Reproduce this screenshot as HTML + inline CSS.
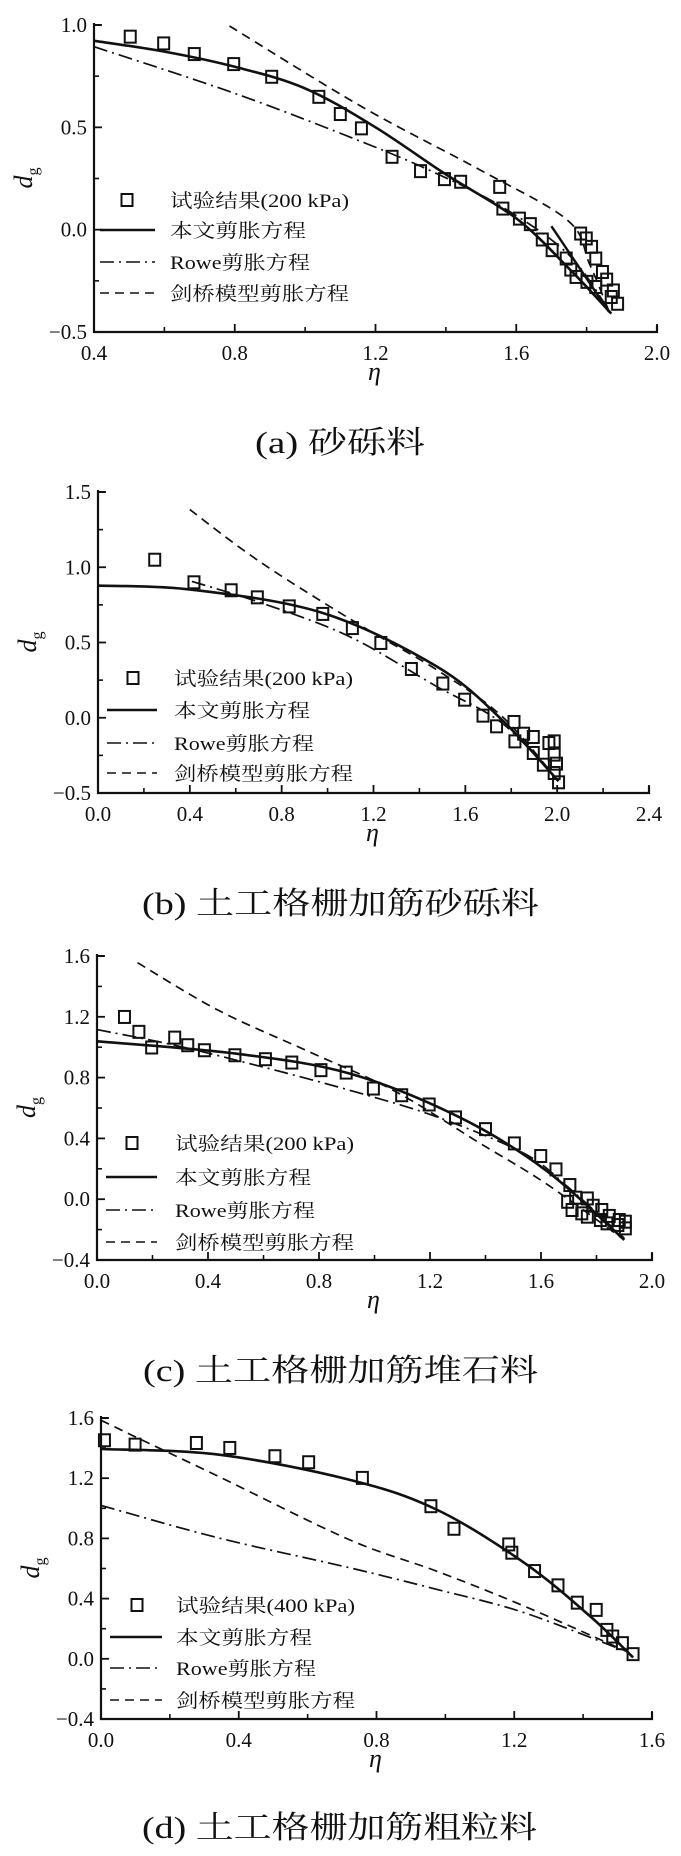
<!DOCTYPE html>
<html><head><meta charset="utf-8">
<style>
html,body{margin:0;padding:0;background:#fff;}
svg{display:block;}
.tick{font-family:"Liberation Serif",serif;font-size:21px;fill:#111;}
.leg{font-family:"Liberation Serif","Noto Serif CJK SC",serif;font-size:19px;fill:#111;}
.cap{font-family:"Liberation Serif","Noto Serif CJK SC",serif;font-size:31px;fill:#111;}
.ax{font-family:"Liberation Serif",serif;font-style:italic;fill:#111;}
</style></head>
<body>
<svg id="root" width="681" height="1856" viewBox="0 0 681 1856" xmlns="http://www.w3.org/2000/svg"></svg>
<script>
// ---------- Chart (a) data ----------
const aXTicks=[0.4,0.8,1.2,1.6,2.0];
const aYTicks=[-0.5,0.0,0.5,1.0];
const aXTickLabels=["0.4","0.8","1.2","1.6","2.0"];
const aYTickLabels=["\u22120.5","0.0","0.5","1.0"];
const aTestEta=[0.503,0.598,0.685,0.797,0.905,1.039,1.10,1.16,1.247,1.328,1.396,1.442,1.553,1.562,1.609,1.640,1.674,1.702,1.742,1.755,1.77,1.783,1.799,1.814,1.826,1.801,1.845,1.857,1.826,1.876,1.87,1.888];
const aTestDg=[0.943,0.91,0.858,0.809,0.747,0.649,0.565,0.495,0.356,0.286,0.247,0.234,0.209,0.103,0.054,0.027,-0.048,-0.1,-0.141,-0.195,-0.231,-0.019,-0.043,-0.084,-0.141,-0.255,-0.207,-0.244,-0.28,-0.297,-0.329,-0.362];
const aOursEta=[0.4,0.6,0.8,1.0,1.2,1.4,1.6,1.75,1.87];
const aOursDg=[0.923,0.87,0.796,0.69,0.50,0.27,0.055,-0.19,-0.41];
const aOurs2Eta=[1.70,1.864];
const aOurs2Dg=[0.017,-0.402];
const aRoweEta=[0.4,0.8,1.162,1.374,1.56,1.746,1.864];
const aRoweDg=[0.894,0.666,0.429,0.274,0.111,-0.117,-0.394];
const aCamEta=[0.785,1.162,1.498,1.746,1.808,1.864];
const aCamDg=[0.995,0.60,0.291,0.046,-0.166,-0.40];

// ---------- Chart (b) data ----------
const bXTicks=[0.0,0.4,0.8,1.2,1.6,2.0,2.4];
const bYTicks=[-0.5,0.0,0.5,1.0,1.5];
const bXTickLabels=["0.0","0.4","0.8","1.2","1.6","2.0","2.4"];
const bYTickLabels=["\u22120.5","0.0","0.5","1.0","1.5"];
const bTestEta=[0.247,0.418,0.580,0.694,0.833,0.979,1.108,1.232,1.365,1.502,1.597,1.677,1.736,1.812,1.816,1.854,1.896,1.896,1.94,1.964,1.987,1.987,1.997,1.987,2.006];
const bTestDg=[1.05,0.90,0.847,0.80,0.74,0.69,0.596,0.497,0.324,0.227,0.12,0.014,-0.057,-0.028,-0.157,-0.106,-0.128,-0.234,-0.312,-0.168,-0.157,-0.245,-0.305,-0.367,-0.429];
const bOursEta=[0,0.409,0.979,1.474,1.759,2.006];
const bOursDg=[0.878,0.851,0.696,0.342,-0.013,-0.422];
const bRoweEta=[0.409,0.713,1.093,1.474,1.759,2.0];
const bRoweDg=[0.906,0.762,0.541,0.209,-0.035,-0.41];
const bCamEta=[0.40,0.713,1.151,1.474,1.759,2.0];
const bCamDg=[1.383,1.028,0.607,0.32,0.01,-0.41];

// ---------- Chart (c) data ----------
const cXTicks=[0.0,0.4,0.8,1.2,1.6,2.0];
const cYTicks=[-0.4,0.0,0.4,0.8,1.2,1.6];
const cXTickLabels=["0.0","0.4","0.8","1.2","1.6","2.0"];
const cYTickLabels=["\u22120.4","0.0","0.4","0.8","1.2","1.6"];
const cTestEta=[0.099,0.151,0.197,0.28,0.327,0.387,0.497,0.607,0.702,0.807,0.898,0.996,1.098,1.197,1.292,1.40,1.504,1.599,1.654,1.704,1.696,1.725,1.712,1.767,1.747,1.788,1.767,1.819,1.814,1.846,1.838,1.882,1.877,1.904,1.904];
const cTestDg=[1.199,1.101,0.998,1.063,1.013,0.98,0.947,0.921,0.899,0.849,0.833,0.728,0.684,0.623,0.538,0.461,0.367,0.284,0.196,0.093,-0.017,0.01,-0.071,0.005,-0.093,-0.043,-0.115,-0.071,-0.137,-0.11,-0.159,-0.137,-0.17,-0.148,-0.192];
const cOursEta=[0,0.5,0.91,1.303,1.617,1.9];
const cOursDg=[1.039,0.958,0.827,0.542,0.191,-0.268];
const cRoweEta=[0,0.28,0.595,0.91,1.224,1.539,1.696,1.9];
const cRoweDg=[1.116,1.013,0.871,0.717,0.542,0.301,0.082,-0.257];
const cCamEta=[0.146,0.437,0.752,1.067,1.381,1.617,1.9];
const cCamDg=[1.556,1.243,0.98,0.717,0.367,0.104,-0.268];

// ---------- Chart (d) data ----------
const dXTicks=[0.0,0.4,0.8,1.2,1.6];
const dYTicks=[-0.4,0.0,0.4,0.8,1.2,1.6];
const dXTickLabels=["0.0","0.4","0.8","1.2","1.6"];
const dYTickLabels=["\u22120.4","0.0","0.4","0.8","1.2","1.6"];
const dTestEta=[0.01,0.099,0.277,0.374,0.505,0.603,0.759,0.958,1.025,1.184,1.193,1.259,1.327,1.383,1.438,1.469,1.486,1.514,1.545];
const dTestDg=[1.452,1.423,1.434,1.401,1.346,1.306,1.202,1.014,0.864,0.76,0.705,0.583,0.488,0.373,0.325,0.192,0.148,0.104,0.031];
const dOursEta=[0,0.34,0.72,0.974,1.228,1.419,1.545];
const dOursDg=[1.394,1.357,1.191,0.992,0.639,0.285,0.009];
const dRoweEta=[0,0.34,0.72,0.974,1.228,1.52];
const dRoweDg=[1.019,0.804,0.606,0.462,0.307,0.053];
const dCamEta=[0,0.086,0.34,0.72,0.974,1.228,1.533];
const dCamDg=[1.585,1.49,1.213,0.793,0.583,0.351,0.042];

const NS="http://www.w3.org/2000/svg";
const root=document.getElementById('root');
function mk(tag,attrs,parent){const e=document.createElementNS(NS,tag);for(const k in attrs)e.setAttribute(k,attrs[k]);(parent||root).appendChild(e);return e;}
function smooth(pts){
  if(pts.length<3){return "M"+pts.map(p=>p[0].toFixed(1)+","+p[1].toFixed(1)).join(" L");}
  let d="M"+pts[0][0].toFixed(1)+","+pts[0][1].toFixed(1);
  for(let i=0;i<pts.length-1;i++){
    const p0=pts[Math.max(0,i-1)],p1=pts[i],p2=pts[i+1],p3=pts[Math.min(pts.length-1,i+2)];
    const c1=[p1[0]+(p2[0]-p0[0])/6,p1[1]+(p2[1]-p0[1])/6];
    const c2=[p2[0]-(p3[0]-p1[0])/6,p2[1]-(p3[1]-p1[1])/6];
    d+=" C"+c1[0].toFixed(1)+","+c1[1].toFixed(1)+" "+c2[0].toFixed(1)+","+c2[1].toFixed(1)+" "+p2[0].toFixed(1)+","+p2[1].toFixed(1);
  }
  return d;
}
const DASHDOT="14 5 2 5", DASHED="9 6";

function chart(cfg){
  const g=mk('g',{});
  
  
  const xs=v=>cfg.L+(v-cfg.xMin)/(cfg.xMax-cfg.xMin)*(cfg.R-cfg.L);
  const ys=v=>cfg.B-(v-cfg.yMin)/(cfg.yMax-cfg.yMin)*(cfg.B-cfg.T);
  const axes=mk('path',{d:`M${cfg.L},${cfg.T-2} L${cfg.L},${cfg.B} L${cfg.R},${cfg.B} L${cfg.R},${cfg.B-7}`,fill:'none',stroke:'#111','stroke-width':2.2},g);
  
  
  mk('line',{x1:cfg.L,y1:cfg.T,x2:cfg.L+7,y2:cfg.T,stroke:'#111','stroke-width':2},g);
  cfg.xTicks.forEach((v,i)=>{
    const x=xs(v);
    mk('line',{x1:x,y1:cfg.B,x2:x,y2:cfg.B-8,stroke:'#111','stroke-width':1.8},g);
    if(i<cfg.xTicks.length-1){const xm=xs(v+(cfg.xTicks[1]-cfg.xTicks[0])/2);mk('line',{x1:xm,y1:cfg.B,x2:xm,y2:cfg.B-5,stroke:'#111','stroke-width':1.6},g);}
    const t=mk('text',{x:x,y:cfg.B+28,'text-anchor':'middle',class:'tick'},g);
    t.textContent=cfg.xTickLabels[i];
    
    
  });
  cfg.yTicks.forEach((v,i)=>{
    const y=ys(v);
    mk('line',{x1:cfg.L,y1:y,x2:cfg.L+8,y2:y,stroke:'#111','stroke-width':1.8},g);
    if(i<cfg.yTicks.length-1){const ym=ys(v+(cfg.yTicks[1]-cfg.yTicks[0])/2);mk('line',{x1:cfg.L,y1:ym,x2:cfg.L+5,y2:ym,stroke:'#111','stroke-width':1.6},g);}
    const t=mk('text',{x:cfg.L-7,y:y+7,'text-anchor':'end',class:'tick'},g);
    t.textContent=cfg.yTickLabels[i];
    
    
  });
  const yt=mk('text',{x:0,y:0,class:'ax','font-size':26,transform:`translate(${cfg.L-62},${(cfg.T+cfg.B)/2+10}) rotate(-90)`},g);
  yt.innerHTML='d<tspan font-size="16" font-style="normal" dy="6">g</tspan>';
  
  
  const xt=mk('text',{x:(cfg.L+cfg.R)/2-1,y:cfg.B+48,class:'ax','font-size':26,'text-anchor':'middle'},g);
  xt.textContent='η';
  
  
  cfg.lines.forEach(s=>{
    const pts=s.eta.map((e,i)=>[xs(e),ys(s.dg[i])]);
    const p=mk('path',{d:smooth(pts),fill:'none',stroke:'#111','stroke-width':s.w,'stroke-dasharray':s.dash||'none'},g);
    
    
  });
  cfg.testEta.forEach((e,i)=>{
    const r=mk('rect',{x:xs(e)-5.5,y:ys(cfg.testDg[i])-6,width:11,height:12,fill:'none',stroke:'#111','stroke-width':2},g);
    
    
  });
  const lg=cfg.leg;
  const leg=mk('g',{},g);
  
  
  mk('rect',{x:lg.mx-5.5,y:lg.rows[0]-6,width:11,height:12,fill:'none',stroke:'#111','stroke-width':2},leg);
  mk('line',{x1:lg.l1,y1:lg.rows[1],x2:lg.l2,y2:lg.rows[1],stroke:'#111','stroke-width':2.5},leg);
  mk('line',{x1:lg.l1,y1:lg.rows[2],x2:lg.l2,y2:lg.rows[2],stroke:'#111','stroke-width':1.6,'stroke-dasharray':DASHDOT},leg);
  mk('line',{x1:lg.l1,y1:lg.rows[3],x2:lg.l2,y2:lg.rows[3],stroke:'#111','stroke-width':1.6,'stroke-dasharray':DASHED},leg);
  const labels=['试验结果('+cfg.kpa+' kPa)','本文剪胀方程','Rowe剪胀方程','剑桥模型剪胀方程'];
  const lens=[179,136,140,179];
  const names=['legend-entry-test','legend-entry-proposed','legend-entry-rowe','legend-entry-cam-clay'];
  labels.forEach((s,i)=>{
    const t=mk('text',{x:lg.tx,y:lg.rows[i]+7,class:'leg',textLength:lens[i],lengthAdjust:'spacingAndGlyphs'},leg);
    t.textContent=s;
    
    
  });
  const c=mk('text',{x:cfg.capX,y:cfg.capY,class:'cap',textLength:cfg.capW,lengthAdjust:'spacingAndGlyphs'},g);
  c.textContent=cfg.cap;
  
  
}
function series(oE,oD,rE,rD,cE,cD,extra){
  const a=[{eta:oE,dg:oD,w:2.6,name:'proposed-curve'},{eta:rE,dg:rD,w:1.7,dash:DASHDOT,name:'rowe-curve'},{eta:cE,dg:cD,w:1.7,dash:DASHED,name:'cam-clay-curve'}];
  if(extra)a.push(extra);return a;
}
chart({id:'a',L:94,R:657,T:25,B:332,xMin:0.4,xMax:2.0,yMin:-0.5,yMax:1.0,xTicks:aXTicks,yTicks:aYTicks,xTickLabels:aXTickLabels,yTickLabels:aYTickLabels,
  testEta:aTestEta,testDg:aTestDg,lines:series(aOursEta,aOursDg,aRoweEta,aRoweDg,aCamEta,aCamDg,{eta:aOurs2Eta,dg:aOurs2Dg,w:2.4,name:'proposed-curve-branch'}),
  kpa:200,leg:{mx:127,l1:100,l2:155,tx:170,rows:[200,230,262,293]},cap:'(a) 砂砾料',capX:255,capY:453,capW:170});
chart({id:'b',L:98,R:649,T:492,B:793,xMin:0,xMax:2.4,yMin:-0.5,yMax:1.5,xTicks:bXTicks,yTicks:bYTicks,xTickLabels:bXTickLabels,yTickLabels:bYTickLabels,
  testEta:bTestEta,testDg:bTestDg,lines:series(bOursEta,bOursDg,bRoweEta,bRoweDg,bCamEta,bCamDg),
  kpa:200,leg:{mx:133,l1:107,l2:157,tx:174,rows:[678,710,743,773]},cap:'(b) 土工格栅加筋砂砾料',capX:142,capY:914,capW:397});
chart({id:'c',L:97,R:652,T:956,B:1260,xMin:0,xMax:2.0,yMin:-0.4,yMax:1.6,xTicks:cXTicks,yTicks:cYTicks,xTickLabels:cXTickLabels,yTickLabels:cYTickLabels,
  testEta:cTestEta,testDg:cTestDg,lines:series(cOursEta,cOursDg,cRoweEta,cRoweDg,cCamEta,cCamDg),
  kpa:200,leg:{mx:132,l1:106,l2:157,tx:175,rows:[1143,1177,1210,1242]},cap:'(c) 土工格栅加筋堆石料',capX:143,capY:1381,capW:395});
chart({id:'d',L:101,R:652,T:1418,B:1719,xMin:0,xMax:1.6,yMin:-0.4,yMax:1.6,xTicks:dXTicks,yTicks:dYTicks,xTickLabels:dXTickLabels,yTickLabels:dYTickLabels,
  testEta:dTestEta,testDg:dTestDg,lines:series(dOursEta,dOursDg,dRoweEta,dRoweDg,dCamEta,dCamDg),
  kpa:400,leg:{mx:137,l1:110,l2:162,tx:176,rows:[1605,1637,1668,1700]},cap:'(d) 土工格栅加筋粗粒料',capX:142,capY:1838,capW:395});
</script>
</body></html>
